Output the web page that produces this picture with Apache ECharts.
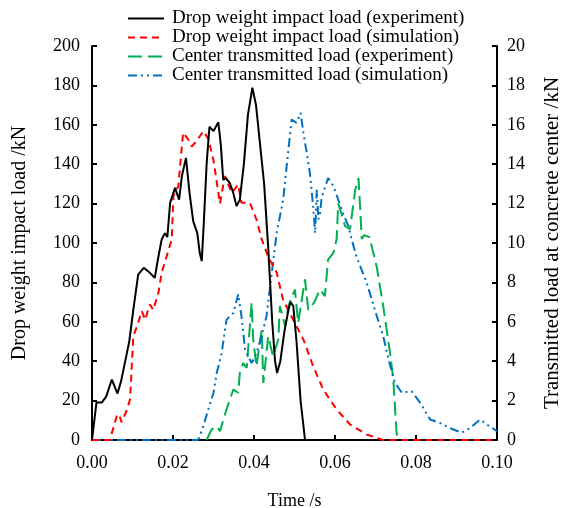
<!DOCTYPE html>
<html>
<head>
<meta charset="utf-8">
<script src="https://cdn.jsdelivr.net/npm/echarts@6/dist/echarts.min.js"></script>
<style>html,body{margin:0;padding:0;background:#fff;}#c{width:565px;height:508px;}</style>
</head>
<body>
<div id="c"></div>
<script>
// ---- data ----
var seriesNames = [
  'Drop weight impact load (experiment)',
  'Drop weight impact load (simulation)',
  'Center transmitted load (experiment)',
  'Center transmitted load (simulation)'
];
var xTicks = [0, 0.02, 0.04, 0.06, 0.08, 0.10];

var expDropT = [0, 0.0011, 0.0024, 0.0035, 0.0049, 0.0063, 0.0072, 0.0081, 0.0092, 0.0102, 0.0114, 0.0122, 0.0128, 0.0142, 0.0155, 0.0163, 0.0172, 0.018, 0.0186, 0.0193, 0.0205, 0.0215, 0.0222, 0.0232, 0.0241, 0.025, 0.026, 0.0266, 0.0271, 0.0276, 0.0283, 0.029, 0.03, 0.0312, 0.0318, 0.0324, 0.033, 0.034, 0.0348, 0.0357, 0.0365, 0.0375, 0.0385, 0.0396, 0.0405, 0.0415, 0.0425, 0.0435, 0.0445, 0.0452, 0.0457, 0.0465, 0.0475, 0.0485, 0.049, 0.0497, 0.0505, 0.0515, 0.0526];
var expDropV = [0, 19, 19, 22, 30.7, 23.6, 30, 39, 50, 66, 84, 86, 87.4, 85, 82.3, 92, 101.8, 105, 103, 120.5, 128, 122, 134, 143.2, 125, 111, 105, 95, 90.8, 110, 140, 159, 156.8, 161.3, 150, 132, 133, 130.5, 126, 118.7, 122, 140, 165, 178.8, 170, 150, 130, 98, 60, 40, 34, 40, 55, 66, 70, 68, 50, 20, 0];

var simDropT = [0, 0.0044, 0.0061, 0.0067, 0.0073, 0.0085, 0.0094, 0.0102, 0.011, 0.0123, 0.0131, 0.0143, 0.0151, 0.0164, 0.0172, 0.0184, 0.0197, 0.0201, 0.0213, 0.0225, 0.0238, 0.0246, 0.0258, 0.0275, 0.0287, 0.03, 0.0316, 0.0328, 0.0345, 0.0361, 0.0369, 0.039, 0.0406, 0.0419, 0.0435, 0.0456, 0.0472, 0.0497, 0.0522, 0.0546, 0.0571, 0.0604, 0.0637, 0.0678, 0.0718, 0.1];
var simDropV = [0, 0, 12, 13, 9, 14.6, 20.6, 52.7, 57, 65.4, 61, 68.8, 66, 74.7, 85, 93, 102, 123.8, 128.8, 156, 152.5, 149, 151.7, 156.8, 153, 142, 120, 134, 125.5, 129.7, 120.4, 120.4, 112, 102, 93, 85, 71, 61, 51, 37.5, 25.6, 15.5, 7.9, 2.8, 0, 0];

var expCenterT = [0.0283, 0.0295, 0.0308, 0.0316, 0.0332, 0.0349, 0.0361, 0.0365, 0.0373, 0.0382, 0.0394, 0.0398, 0.0406, 0.0419, 0.0423, 0.0435, 0.0447, 0.046, 0.0464, 0.0477, 0.0485, 0.0501, 0.0509, 0.0518, 0.0526, 0.0534, 0.0548, 0.0563, 0.0575, 0.0583, 0.0596, 0.0604, 0.0608, 0.0616, 0.0625, 0.0637, 0.065, 0.0658, 0.0661, 0.0666, 0.0672, 0.0685, 0.0703, 0.0719, 0.0736, 0.0744, 0.0752, 0.0756];
var expCenterV = [0, 0.53, 0.7, 0.45, 1.55, 2.56, 2.4, 3.4, 3.9, 3.66, 6.96, 5.1, 3.75, 5.6, 2.9, 5.27, 4.25, 5.1, 6.8, 5.78, 6.8, 7.64, 5.95, 7.13, 8.15, 6.6, 6.96, 7.64, 7.3, 9.16, 9.5, 10.2, 12.0, 11.5, 10.85, 10.7, 12.7, 13.3, 12.2, 10.2, 10.4, 10.3, 8.8, 6.8, 4.4, 3.07, 0.37, 0];

var simCenterT = [0, 0.0262, 0.0275, 0.0287, 0.03, 0.0308, 0.032, 0.0332, 0.0341, 0.0349, 0.0361, 0.0369, 0.0378, 0.0394, 0.0406, 0.0419, 0.0431, 0.0444, 0.0456, 0.0472, 0.0485, 0.0493, 0.0505, 0.0515, 0.0522, 0.053, 0.0538, 0.0546, 0.0551, 0.0555, 0.0559, 0.0563, 0.0567, 0.0571, 0.0583, 0.0596, 0.0608, 0.062, 0.0633, 0.0641, 0.0653, 0.0678, 0.0703, 0.0719, 0.0732, 0.0748, 0.0765, 0.0789, 0.081, 0.0835, 0.0859, 0.0884, 0.0913, 0.0933, 0.0958, 0.0975, 0.1];
var simCenterV = [0, 0, 0.7, 1.55, 2.4, 3.4, 4.4, 6.1, 6.3, 6.45, 7.4, 6.3, 4.6, 3.9, 4.4, 5.27, 6.3, 8.5, 10.5, 12.2, 14.75, 16.27, 16.1, 16.6, 15.6, 14.6, 13.56, 11.87, 10.5, 12.7, 11.2, 11.5, 12.3, 12.55, 13.3, 12.9, 12.2, 11.5, 10.85, 10.2, 9.3, 8, 6.3, 5.27, 4.1, 2.9, 2.4, 2.48, 1.9, 1.04, 0.87, 0.6, 0.37, 0.6, 1.04, 0.79, 0.45];

function zip(a, b) { return a.map(function (x, i) { return [x, b[i]]; }); }

var FONT = 'Liberation Serif';
var chart = echarts.init(document.getElementById('c'), null, { renderer: 'canvas' });

function yAxisCommon(min, max, interval, name, pos, nameGap, nameSize) {
  return {
    type: 'value', position: pos, min: min, max: max, interval: interval,
    name: name, nameLocation: 'middle', nameGap: nameGap, nameRotate: 90,
    nameTextStyle: { fontFamily: FONT, fontSize: nameSize, color: '#000' },
    axisLine: { show: true, onZero: false, lineStyle: { color: '#000', width: 2 } },
    axisTick: { show: true, inside: true, length: 5, lineStyle: { color: '#000', width: 2 } },
    axisLabel: { fontFamily: FONT, fontSize: 18, color: '#000', margin: pos === 'left' ? 12 : 10 },
    splitLine: { show: false }
  };
}

chart.setOption({
  animation: false,
  backgroundColor: '#fff',
  grid: { left: 92, right: 68, top: 46, bottom: 68, outerBoundsMode: 'none', containLabel: false },
  legend: {
    orient: 'vertical', left: 122, top: 4, itemWidth: 36, itemHeight: 14, itemGap: 0,
    itemStyle: { opacity: 0 },
    textStyle: { fontFamily: FONT, fontSize: 19, color: '#000', padding: [0, 0, 0, 3] },
    data: seriesNames
  },
  xAxis: {
    type: 'value', min: 0, max: 0.1, interval: 0.02,
    name: 'Time /s', nameLocation: 'middle', nameGap: 52,
    nameTextStyle: { fontFamily: FONT, fontSize: 18, color: '#000' },
    axisLine: { show: true, onZero: false, lineStyle: { color: '#000', width: 2 } },
    axisTick: { show: true, inside: true, length: 5, lineStyle: { color: '#000', width: 2 } },
    axisLabel: { fontFamily: FONT, fontSize: 18, color: '#000', margin: 14,
      formatter: function (v) { return v.toFixed(2); } },
    splitLine: { show: false }
  },
  yAxis: [
    yAxisCommon(0, 200, 20, 'Drop weight impact load /kN', 'left', 62, 20),
    yAxisCommon(0, 20, 2, 'Transmitted load at concrete center /kN', 'right', 45, 21)
  ],
  series: [
    { name: seriesNames[0], type: 'line', yAxisIndex: 0, symbol: 'none', showSymbol: false, z: 5,
      lineStyle: { color: '#000', width: 2, type: 'solid' }, itemStyle: { color: '#000' },
      data: zip(expDropT, expDropV) },
    { name: seriesNames[1], type: 'line', yAxisIndex: 0, symbol: 'none', showSymbol: false, z: 4,
      lineStyle: { color: '#ff0000', width: 2, type: [7, 5] }, itemStyle: { color: '#ff0000' },
      data: zip(simDropT, simDropV) },
    { name: seriesNames[2], type: 'line', yAxisIndex: 1, symbol: 'none', showSymbol: false, z: 3,
      lineStyle: { color: '#00b050', width: 2, type: [14, 6] }, itemStyle: { color: '#00b050' },
      data: zip(expCenterT, expCenterV) },
    { name: seriesNames[3], type: 'line', yAxisIndex: 1, symbol: 'none', showSymbol: false, z: 3,
      lineStyle: { color: '#0070c0', width: 2, type: [9, 4, 2, 4, 2, 4] }, itemStyle: { color: '#0070c0' },
      data: zip(simCenterT, simCenterV) }
  ]
});
</script>
</body>
</html>
